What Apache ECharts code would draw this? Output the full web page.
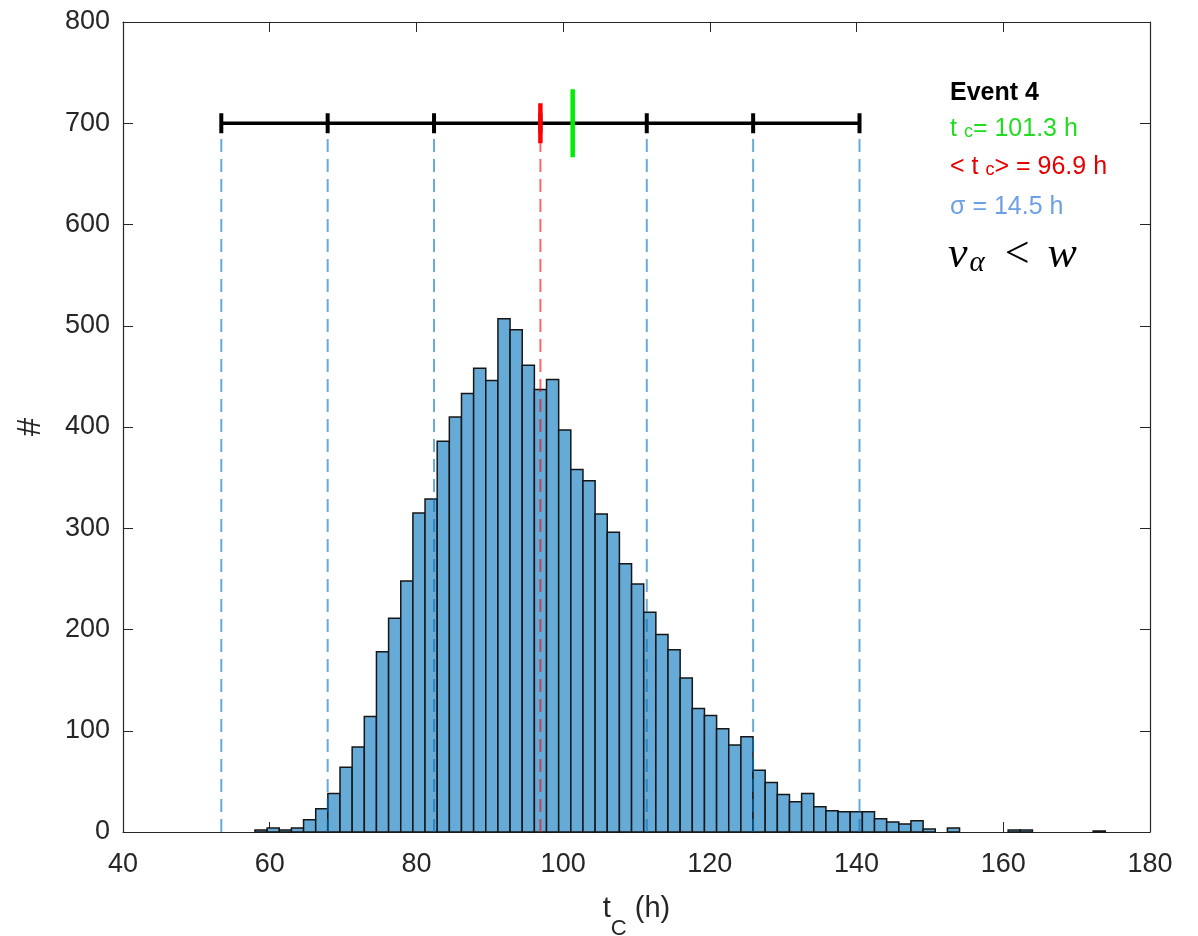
<!DOCTYPE html>
<html>
<head>
<meta charset="utf-8">
<script src="https://cdn.jsdelivr.net/npm/echarts@6/dist/echarts.min.js"></script>
<style>
  html, body { margin: 0; background: #fff; }
  #chart { width: 1198px; height: 936px; }
</style>
</head>
<body>
<div id="chart"></div>
<script>
  // histogram bins (h) and counts
  var binStart = 57.99
  var binWidth = 1.656
  var counts = [2, 4, 2, 4, 12, 23, 38, 64, 84, 114, 178, 211, 248, 315, 329, 386, 410, 433, 458, 446,
    507, 496, 461, 437, 447, 397, 358, 347, 314, 296, 265, 245, 217, 195, 180, 152, 122, 115, 102, 86,
    94, 61, 49, 37, 30, 38, 25, 21, 20, 20, 20, 13, 10, 8, 11, 3, 0, 4, 0, 0,
    0, 0, 2, 2, 0, 0, 0, 0, 0, 1]

  // <tc> +/- k sigma, observed tc, level of the range bar
  var sigmaMarks = [53.4, 67.9, 82.4, 96.9, 111.4, 125.9, 140.4]
  var meanTc = 96.9
  var obsTc = 101.3
  var sigmaTc = 14.5
  var rangeLevel = 700

  var font = '"Liberation Sans", Arial, sans-serif'
  var serif = '"Liberation Serif", "DejaVu Serif", serif'
  var axisColor = '#262626'

  var binData = counts.map(function (c, i) {
    return [binStart + i * binWidth, binStart + (i + 1) * binWidth, c]
  })
  var outerMarks = sigmaMarks.filter(function (v) { return v !== meanTc })

  function vLine (color, dash, width) {
    return function (params, api) {
      var a = api.coord([api.value(0), 0])
      var b = api.coord([api.value(0), api.value(1)])
      return {
        type: 'line',
        shape: { x1: a[0], y1: a[1], x2: b[0], y2: b[1] },
        style: { stroke: color, lineWidth: width, lineDash: dash }
      }
    }
  }
  function tick (color, half, width) {
    return function (params, api) {
      var p = api.coord([api.value(0), api.value(1)])
      return {
        type: 'line',
        shape: { x1: p[0], y1: p[1] - half, x2: p[0], y2: p[1] + half },
        style: { stroke: color, lineWidth: width }
      }
    }
  }

  var myChart = echarts.init(document.getElementById('chart'))
  myChart.setOption({
    animation: false,
    backgroundColor: '#fff',
    grid: { left: 123, right: 48, top: 22, bottom: 104, containLabel: false, outerBoundsMode: 'none' },
    xAxis: [
      {
        type: 'value', min: 40, max: 180, interval: 20, position: 'bottom',
        axisLine: { show: true, onZero: false, lineStyle: { color: axisColor, width: 1.2 } },
        axisTick: { show: true, inside: true, length: 10, lineStyle: { color: axisColor } },
        axisLabel: { color: axisColor, fontSize: 27, fontFamily: font, margin: 19 },
        splitLine: { show: false },
        name: '{t|t}{s|C}{t| (h)}',
        nameLocation: 'middle',
        nameGap: 62,
        nameTextStyle: {
          rich: {
            t: { fontSize: 29, fontFamily: font, color: axisColor, padding: [0, 0, 16, 0] },
            s: { fontSize: 22, fontFamily: font, color: axisColor, padding: [24, 0, 0, 0] }
          }
        }
      },
      {
        type: 'value', min: 40, max: 180, interval: 20, position: 'top',
        axisLine: { show: true, onZero: false, lineStyle: { color: axisColor, width: 1.2 } },
        axisTick: { show: true, inside: true, length: 10, lineStyle: { color: axisColor } },
        axisLabel: { show: false },
        splitLine: { show: false }
      }
    ],
    yAxis: [
      {
        type: 'value', min: 0, max: 800, interval: 100, position: 'left',
        axisLine: { show: true, lineStyle: { color: axisColor, width: 1.2 } },
        axisTick: { show: true, inside: true, length: 10, lineStyle: { color: axisColor } },
        axisLabel: { color: axisColor, fontSize: 27, fontFamily: font, margin: 13 },
        splitLine: { show: false },
        name: '#',
        nameLocation: 'middle',
        nameRotate: 90,
        nameGap: 76,
        nameTextStyle: { fontSize: 33, fontFamily: font, color: axisColor }
      },
      {
        type: 'value', min: 0, max: 800, interval: 100, position: 'right',
        axisLine: { show: true, lineStyle: { color: axisColor, width: 1.2 } },
        axisTick: { show: true, inside: true, length: 10, lineStyle: { color: axisColor } },
        axisLabel: { show: false },
        splitLine: { show: false }
      }
    ],
    series: [
      {
        type: 'custom',
        name: 'histogram',
        data: binData,
        encode: { x: [0, 1], y: 2 },
        z: 2,
        renderItem: function (params, api) {
          var c = api.value(2)
          if (!c) return null
          var tl = api.coord([api.value(0), c])
          var br = api.coord([api.value(1), 0])
          return {
            type: 'rect',
            shape: { x: tl[0], y: tl[1], width: br[0] - tl[0], height: br[1] - tl[1] },
            style: { fill: '#66aad7', stroke: '#161616', lineWidth: 1.5 }
          }
        }
      },
      { // sigma guides
        type: 'custom',
        data: outerMarks.map(function (v) { return [v, rangeLevel] }),
        encode: { x: 0, y: 1 },
        z: 3,
        renderItem: vLine('rgba(0,114,189,0.6)', [13, 7], 2)
      },
      { // mean guide
        type: 'custom',
        data: [[meanTc, rangeLevel]],
        encode: { x: 0, y: 1 },
        z: 3,
        renderItem: vLine('rgba(255,0,0,0.6)', [13, 7], 2)
      },
      { // range bar
        type: 'custom',
        data: [[sigmaMarks[0], sigmaMarks[sigmaMarks.length - 1], rangeLevel]],
        encode: { x: [0, 1], y: 2 },
        z: 4,
        renderItem: function (params, api) {
          var a = api.coord([api.value(0), api.value(2)])
          var b = api.coord([api.value(1), api.value(2)])
          return {
            type: 'line',
            shape: { x1: a[0], y1: a[1], x2: b[0], y2: b[1] },
            style: { stroke: '#000', lineWidth: 3.5 }
          }
        }
      },
      {
        type: 'custom',
        data: sigmaMarks.map(function (v) { return [v, rangeLevel] }),
        encode: { x: 0, y: 1 },
        z: 5,
        renderItem: tick('#000', 10, 4)
      },
      {
        type: 'custom',
        data: [[meanTc, rangeLevel]],
        encode: { x: 0, y: 1 },
        z: 6,
        renderItem: tick('#ff0000', 20, 4.5)
      },
      {
        type: 'custom',
        data: [[obsTc, rangeLevel]],
        encode: { x: 0, y: 1 },
        z: 7,
        renderItem: tick('#00ee00', 34, 4.5)
      }
    ],
    graphic: [
      {
        type: 'text', x: 950, y: 93, z: 10,
        style: { text: 'Event 4', fontSize: 25, fontWeight: 'bold', fontFamily: font, fill: '#000', verticalAlign: 'middle' }
      },
      {
        type: 'text', x: 950, y: 129, z: 10,
        style: {
          text: '{a|t }{b|c}{a|= ' + obsTc.toFixed(1) + ' h}',
          verticalAlign: 'middle',
          rich: {
            a: { fontSize: 25, fontFamily: font, fill: '#22dd22' },
            b: { fontSize: 18, fontFamily: font, fill: '#22dd22', padding: [6, 0, 0, 0] }
          }
        }
      },
      {
        type: 'text', x: 950, y: 167, z: 10,
        style: {
          text: '{a|< t }{b|c}{a|> = ' + meanTc.toFixed(1) + ' h}',
          verticalAlign: 'middle',
          rich: {
            a: { fontSize: 25, fontFamily: font, fill: '#e60000' },
            b: { fontSize: 18, fontFamily: font, fill: '#e60000', padding: [6, 0, 0, 0] }
          }
        }
      },
      {
        type: 'text', x: 950, y: 207, z: 10,
        style: { text: 'σ = ' + sigmaTc.toFixed(1) + ' h', fontSize: 25, fontFamily: font, fill: '#6d9fe6', verticalAlign: 'middle' }
      },
      {
        type: 'text', x: 948, y: 255, z: 10,
        style: {
          text: '{v|v}{s|α}{o|<}{v|w}',
          verticalAlign: 'middle',
          rich: {
            v: { fontSize: 44, fontStyle: 'italic', fontFamily: serif, fill: '#000' },
            s: { fontSize: 29, fontStyle: 'italic', fontFamily: serif, fill: '#000', padding: [16, 0, 0, 2] },
            o: { fontSize: 44, fontFamily: serif, fill: '#000', padding: [0, 18, 0, 20] }
          }
        }
      }
    ]
  })
</script>
</body>
</html>
